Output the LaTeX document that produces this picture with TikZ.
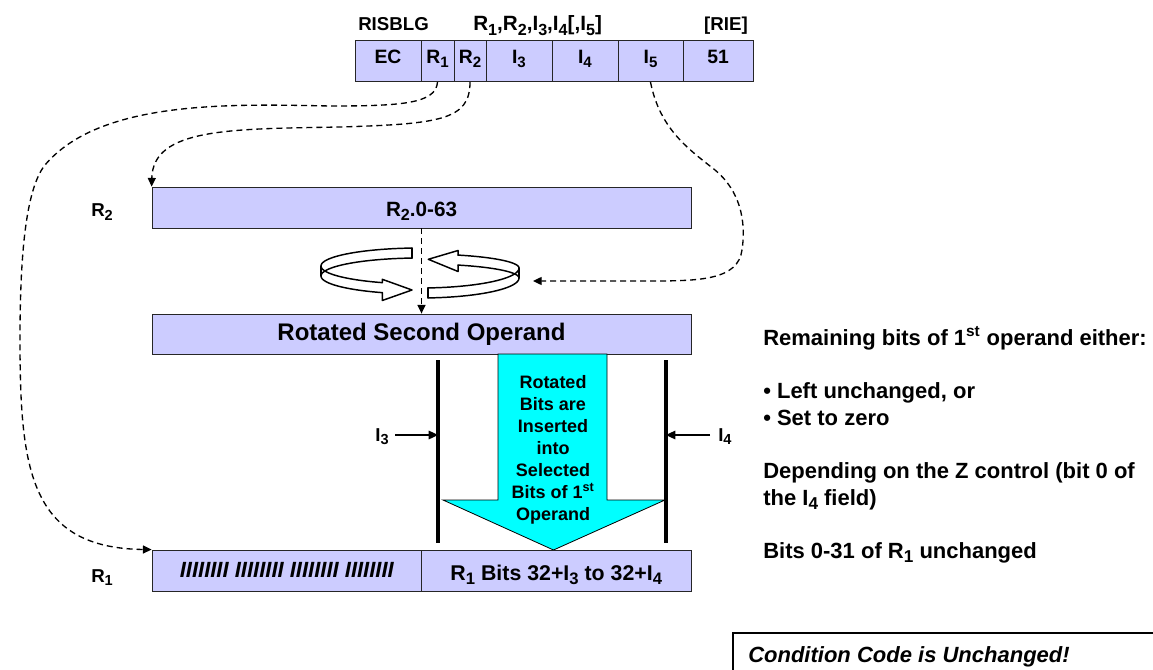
\documentclass[tikz,border=0pt]{standalone}
\usepackage{fontspec}
\usepackage{graphicx}
\setmainfont{Liberation Sans}
\usetikzlibrary{arrows.meta}
\definecolor{lav}{HTML}{CCCCFF}
\definecolor{aqua}{HTML}{00FFFF}
\newcommand\sbs[1]{\raisebox{-0.2em}{\scalebox{0.78}{#1}}}
\newcommand\sps[1]{\textsuperscript{#1}}
\begin{document}
\begin{tikzpicture}[x=0.75pt,y=-0.75pt,
  lbl/.style={font=\fontsize{14}{16}\selectfont\bfseries, inner sep=0pt},
  cellbox/.style={draw=black!85, line width=0.6pt, fill=lav, inner sep=0pt, minimum height=30.75pt, font=\fontsize{14.5}{16}\selectfont\bfseries},
  baseoff/.style={text height=#1, text depth=0pt},
  side/.style={font=\fontsize{16.5}{19}\selectfont\bfseries, inner sep=0pt, anchor=base west},
  dasharrow/.style={dash pattern=on 4.5pt off 3pt, line width=1pt, -{Triangle[length=6.5pt,width=6pt]}},
  ring/.style={line width=1.1pt, line join=round, line cap=round},
  barline/.style={line width=2.6pt},
  solarrow/.style={line width=0.9pt, -{Triangle[length=7pt,width=6.5pt]}},
]
\useasboundingbox (0,0) rectangle (1153,670);
\clip (0,0) rectangle (1153,670);
\fill[white] (0,0) rectangle (1153,670);

% instruction format labels
\node[lbl, anchor=base west] (mnem) at (358,31) {RISBLG};
\node[lbl, anchor=base west, font=\fontsize{15.5}{17}\selectfont\bfseries] (opnds) at (473,31) {R\sbs{1},R\sbs{2},I\sbs{3},I\sbs{4}[,I\sbs{5}]};
\node[lbl, anchor=base east] (fmt) at (748,31) {[RIE]};

% instruction format cells
\node[cellbox, baseoff=4.2pt, minimum width=49.5pt] (ec) at (388,61.2) {EC};
\node[cellbox, baseoff=4.2pt, minimum width=24.75pt] (r1c) at (437.5,61.2) {R\sbs{1}};
\node[cellbox, baseoff=4.2pt, minimum width=24pt] (r2c) at (470,61.2) {R\sbs{2}};
\node[cellbox, baseoff=4.2pt, minimum width=49.5pt] (i3c) at (519,61.2) {I\sbs{3}};
\node[cellbox, baseoff=4.2pt, minimum width=49.5pt] (i4c) at (585,61.2) {I\sbs{4}};
\node[cellbox, baseoff=4.2pt, minimum width=48.75pt] (i5c) at (650.5,61.2) {I\sbs{5}};
\node[cellbox, baseoff=4.2pt, minimum width=52.5pt] (opc) at (718,61.2) {51};

% R2 register
\node[lbl, anchor=base west] (r2lab) at (91,217) {R\sbs{2}};
\node[cellbox, baseoff=13.8pt, minimum width=404.25pt, font=\fontsize{15.5}{18}\selectfont\bfseries] (r2box) at (421.5,207.5) {R\sbs{2}.0-63};

% rotated operand
\node[cellbox, baseoff=9.75pt, minimum width=404.25pt, minimum height=30pt, font=\fontsize{18}{20}\selectfont\bfseries] (rotbox) at (421.5,334) {Rotated Second Operand};

% big cyan arrow
\draw[fill=aqua, line width=0.6pt] (498,354) -- (607,354) -- (607,500) -- (665,500) -- (553.5,550) -- (443,500) -- (498,500) -- cycle;
\node[align=center, inner sep=0pt, font=\fontsize{13.5}{16.5}\selectfont\bfseries] (cyantxt) at (553,450)
  {Rotated\\Bits are\\Inserted\\into\\Selected\\Bits of 1\sps{st}\\Operand};

% R1 register
\node[lbl, anchor=base west] (r1lab) at (91,582) {R\sbs{1}};
\node[cellbox, baseoff=9.75pt, minimum width=202.1pt, font=\fontsize{16.5}{18}\selectfont\bfseries\itshape] (r1lo) at (286.75,570.5) {IIIIIIII IIIIIIII IIIIIIII IIIIIIII};
\node[cellbox, baseoff=14.25pt, minimum width=202.1pt, font=\fontsize{16}{18}\selectfont\bfseries] (r1hi) at (556.25,570.5) {R\sbs{1} Bits 32+I\sbs{3} to 32+I\sbs{4}};

% I3 / I4 boundaries
\coordinate (l3top) at (438,360);
\coordinate (l3bot) at (438,543);
\coordinate (l4top) at (666,360);
\coordinate (l4bot) at (666,543);
\draw[barline] (l3top) -- (l3bot);
\draw[barline] (l4top) -- (l4bot);
\node[lbl, anchor=base east] (i3lab) at (389,441) {I\sbs{3}};
\node[lbl, anchor=base west] (i4lab) at (718,441) {I\sbs{4}};
\coordinate (i3tail) at (395,435);
\coordinate (i4tail) at (710,435);
\draw[solarrow] (i3tail) -- (i3tail -| l3top);
\draw[solarrow] (i4tail) -- (i4tail -| l4top);

% rotation ring: left arrow
\draw[ring] plot[domain=94.6:247.6, samples=50] ({420+99*cos(\x)},{266-18*sin(\x)});
\draw[ring] plot[domain=94.6:247.6, samples=50] ({420+99*cos(\x)},{276-18*sin(\x)});
\draw[ring] (412.06,248.06) -- (412.06,258.06);
\draw[ring] (321,266) -- (321,276);
\draw[ring] (382.27,282.64) -- (382.27,279.3) -- (412,290) -- (382.27,300.5) -- (382.27,292.64);
% rotation ring: right arrow
\draw[ring] plot[domain=-85.4:0, samples=40] ({420+99*cos(\x)},{268-20*sin(\x)});
\draw[ring] plot[domain=-85.4:0, samples=40] ({420+99*cos(\x)},{278-20*sin(\x)});
\draw[ring] plot[domain=0:67.4, samples=40] ({420+99*cos(\x)},{268-14*sin(\x)});
\draw[ring] plot[domain=0:67.4, samples=40] ({420+99*cos(\x)},{278-14*sin(\x)});
\draw[ring] (427.94,287.94) -- (427.94,297.94);
\draw[ring] (519,268) -- (519,278);
\draw[ring] (458.05,255.08) -- (458.05,250.5) -- (428.3,259.3) -- (458.05,271.5) -- (458.05,265.08);

% dashed connectors
\draw[dasharrow] (r2box.south) -- (rotbox.north);
\draw[dasharrow] (r1c.south) .. controls (436,104) and (400,106) .. (330,106)
  .. controls (230,104) and (100,100) .. (45,165)
  .. controls (25,190) and (20,260) .. (20,340)
  .. controls (20,470) and (30,548) .. (r1lo.north west);
\draw[dasharrow] (r2c.south) .. controls (470,120) and (440,124) .. (340,127)
  .. controls (230,129) and (153,128) .. (r2box.north west);
\coordinate (ringR) at (533,281);
\draw[dasharrow] (i5c.south) .. controls (660,130) and (690,150) .. (715,170)
  .. controls (745,195) and (745,230) .. (742,250)
  .. controls (738,280) and (700,281) .. (650,281) -- (ringR);

% explanatory text
\node[side] (t1) at (763,345) {Remaining bits of 1\sps{st} operand either:};
\node[side] (t2) at (763,398) {\textbullet{} Left unchanged, or};
\node[side] (t3) at (763,425) {\textbullet{} Set to zero};
\node[side] (t4) at (763,478) {Depending on the Z control (bit 0 of};
\node[side] (t5) at (763,505) {the I\sbs{4} field)};
\node[side] (t6) at (763,558) {Bits 0-31 of R\sbs{1} unchanged};

% condition code box
\draw[line width=1pt] (733,633) rectangle (1170,700);
\node[side, font=\fontsize{16.5}{19}\selectfont\bfseries\itshape] (cc) at (748,662) {Condition Code is Unchanged!};
\end{tikzpicture}
\end{document}
